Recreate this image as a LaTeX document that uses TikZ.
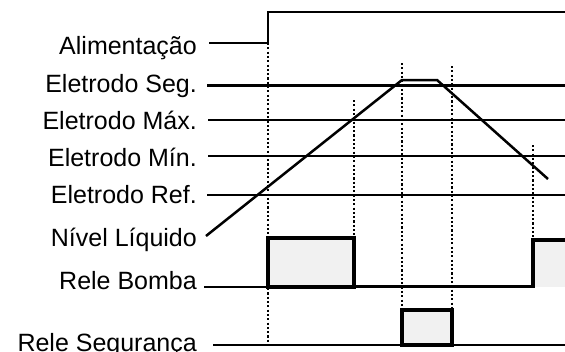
\documentclass[tikz,border=0pt]{standalone}
\usepackage{fontspec}
\setmainfont{Liberation Sans}
\begin{document}
\begin{tikzpicture}[x=1pt,y=-1pt,
    sinal/.style={line width=2.9pt},
    eletrodo/.style={line width=2.5pt},
    guia/.style={line width=2.2pt, dash pattern=on 2.1pt off 2.2pt},
    pulso/.style={line width=3.3pt, fill=gray!11},
    rotulo/.style={anchor=base east, inner sep=0pt, font=\fontsize{25}{30}\selectfont}]

        \useasboundingbox (0,0) rectangle (565,351);

        \def\tLiga{268}
        \def\tMax{354}
        \def\tSobe{402}
        \def\tDesce{452}
        \def\tMin{533}

        % rotulos
        \node[rotulo] (alim)  at (197,54)  {Alimentação};
        \node[rotulo] (eseg)  at (197,92)  {Eletrodo Seg.};
        \node[rotulo] (emax)  at (197,129) {Eletrodo Máx.};
        \node[rotulo] (emin)  at (197,166) {Eletrodo Mín.};
        \node[rotulo] (eref)  at (197,203) {Eletrodo Ref.};
        \node[rotulo] (nivel) at (197,246) {Nível Líquido};
        \node[rotulo] (bomba) at (197,289) {Rele Bomba};
        \node[rotulo] (segur) at (197,351) {Rele Segurança};

        % linhas de tempo
        \draw[guia] (\tLiga,43) -- (\tLiga,345);
        \draw[guia] (\tMax,100) -- (\tMax,238);
        \draw[guia] (\tSobe,63) -- (\tSobe,310);
        \draw[guia] (\tDesce,66) -- (\tDesce,310);
        \draw[guia] (\tMin,145) -- (\tMin,247);

        \draw[sinal] (209,43) -- (\tLiga,43) -- (\tLiga,12) -- (565,12);

        \draw[eletrodo] (207,85.7) -- (565,85.7);
        \draw[eletrodo] (208,120) -- (565,120);
        \draw[eletrodo] (208,156) -- (565,156);
        \draw[eletrodo] (207,195) -- (565,195);

        \draw[eletrodo] (206,236) -- (\tSobe,80) -- (437,80) -- (548,179);

        % rele bomba
        \draw[sinal] (204,287) -- (\tLiga,287);
        \filldraw[pulso] (\tLiga,287) rectangle (\tMax,238);
        \draw[sinal] (\tMax,286.5) -- (\tMin,286.5);
        \fill[gray!11] (\tMin,240) rectangle (565,286.5);
        \draw[pulso, fill=none] (\tMin,287.8) -- (\tMin,240) -- (565,240);

        % rele seguranca
        \draw[sinal] (213,345) -- (\tSobe,345);
        \filldraw[pulso] (\tSobe,345) rectangle (\tDesce,310);
        \draw[sinal] (\tDesce,345) -- (565,345);

\end{tikzpicture}
\end{document}
